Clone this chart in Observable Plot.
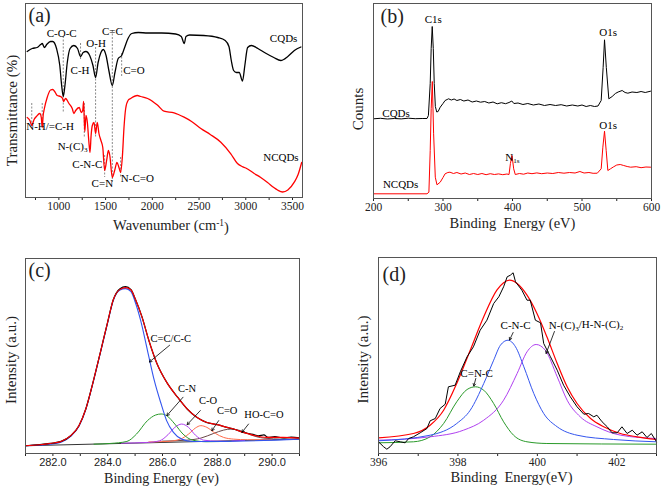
<!DOCTYPE html>
<html><head><meta charset="utf-8">
<script src="https://cdn.jsdelivr.net/npm/d3@7"></script>
<script src="https://cdn.jsdelivr.net/npm/@observablehq/plot@0.6"></script>
<style>
html,body{margin:0;padding:0;background:#fff;}
#fig{position:relative;width:661px;height:491px;overflow:hidden;background:#fff;}
.panel{position:absolute;}
.panel svg text{font-family:"Liberation Serif",serif !important;}
#pc [aria-label="x-axis tick label"] text{font-family:"Liberation Sans",sans-serif !important;}
</style></head><body><div id="fig"></div>
<script>
// ---------- Panel (a): FTIR ----------
const ftirCQDs = [[661,146],[715,149],[768,150],[805,153],[822,154],[845,150],[870,153],[911,156],[935,156],[975,149],[1010,132],[1030,112],[1047,101],[1065,112],[1090,135],[1120,149],[1160,152],[1200,149],[1232,141],[1260,145],[1290,146],[1330,142],[1365,132],[1393,120],[1420,135],[1450,145],[1475,148],[1505,142],[1535,127],[1572,112],[1600,125],[1635,139],[1672,142],[1700,149],[1740,159],[1780,164],[1850,165],[1950,164.5],[2100,164.5],[2250,163.5],[2310,161],[2342,154],[2360,161],[2400,162.5],[2550,162],[2700,160],[2780,157],[2820,151],[2845,137],[2870,127],[2900,125],[2930,125],[2965,116.5],[2990,132],[3020,150],[3060,152],[3130,149],[3200,145],[3300,140],[3375,137],[3450,141],[3520,147],[3590,150.5]];
const ftirNCQDs = [[661,80],[690,77],[710,72],[735,78],[760,81],[796,84],[812,80],[822,70],[832,82],[845,89],[875,100],[911,107.5],[935,108],[955,106],[982,102],[1018,101],[1040,99],[1050,96],[1072,99],[1108,94],[1143,89],[1161,84],[1180,87],[1218,90],[1240,85],[1255,87],[1265,96],[1272,77],[1278,66],[1290,82],[1305,75],[1320,57],[1333,45],[1345,62],[1358,72],[1376,75],[1393,64],[1411,75],[1429,64],[1450,57],[1470,50],[1490,27],[1511,37],[1530,47],[1545,42],[1572,20],[1597,27],[1622,35],[1643,30],[1661,25],[1679,40],[1697,70],[1715,89],[1740,97],[1768,99],[1840,102],[1875,101],[1950,99],[2054,92.5],[2125,86.3],[2233,84.7],[2340,80.3],[2420,76],[2519,69],[2620,63],[2733,55.3],[2840,43.7],[2911,34],[2960,31],[3000,29.5],[3090,24],[3160,20],[3233,15],[3300,10],[3340,7.5],[3394,5.5],[3450,7.5],[3519,15.3],[3560,23],[3598,35]];
const guidesA = [[1047,161,84],[1232,154,137],[1393,150,60],[1572,167,15],[1672,144,120],[710,94,70],[822,94,70],[1272,94,60],[1490,42,20],[1661,40,20]];
const labelsA = [["C-O-C",1030,164],["C-H",1227,127],["O-H",1399,154],["C=C",1572,166],["C=O",1804,127],["CQDs",3405,159],["N-H/=C-H",906,71],["N-(C){_3}",1147,51],["C-N-C",1304,33],["C=N",1465,14],["N-C=O",1840,19],["NCQDs",3376,40]];

// ---------- Panel (b): XPS survey ----------
const surveyCQDs = [[200,79.7],[210,80.2],[220,79.5],[230,80],[240,79.6],[250,80.3],[260,79.8],[270,80],[277,80],[279,83],[281.6,115],[283,150],[284.5,172],[286,150],[287.4,115],[289,92],[291,86.5],[293,87],[296,91.3],[300,95],[303,98],[306,99],[308,99.7],[312,98.5],[316,99.5],[320,98],[325,99],[330,97.5],[336,98.5],[342,96.5],[348,97.5],[354,96.3],[360,97],[366,95.5],[372,96.5],[378,94.7],[384,95.8],[390,94.8],[395,96],[399,97.5],[402,95],[408,95.5],[415,94],[422,95],[430,93.5],[438,94.5],[446,93],[454,94],[462,93],[470,93.8],[478,92.5],[486,93.5],[494,92.5],[500,93.5],[506,92],[512,93],[518,92],[523,92.5],[527.6,98],[530.4,131],[532.4,158.7],[535,131],[538.6,99.7],[543.4,102],[548,105],[552,106.5],[557.8,108],[562,106],[566,105.3],[572,106.5],[579,106],[585,107],[591,106],[598.6,107.3]];
const surveyNCQDs = [[200,4.7],[277,4.7],[279.7,6.3],[281.6,48],[283,90],[284.6,117],[286.5,64.7],[288.9,21.3],[291.3,13.7],[296,16.3],[300,21],[303,24.7],[307,26],[310,26.3],[315,25],[320,26],[326,24.5],[332,25.5],[338,24],[344,25],[350,24],[356,25],[362,23.8],[368,24.8],[374,24],[380,24.6],[386,23.8],[392,24.5],[395,24],[397,35],[399.3,43],[401.7,29.7],[404,24],[410,25],[416,24.3],[422,25.5],[428,24.8],[435,25.6],[442,24.8],[450,25.5],[458,25],[466,26],[474,25.3],[482,26],[490,25.5],[497,27],[503,25.5],[510,26],[516,25.2],[522,25.3],[527.6,29.7],[530,51.3],[532.4,67.3],[534.8,48],[537.2,28],[541,29.7],[545,31.5],[550,33.5],[555,34],[560,33],[565,32],[570,31.3],[578,31.8],[585,30.8],[592,31.5],[598.6,31.3]];
const labelsB = [["C1s",286,179],["O1s",537.6,166],["CQDs",232.5,84.7],["N{_1s}",400,41],["O1s",537.6,73],["NCQDs",239,13.7]];

// ---------- Panel (c): C1s ----------
const c1sData = [[281,7.7],[281.9,10],[282.3,12],[282.65,17.7],[282.95,27.7],[283.2,44.3],[283.45,69.3],[283.75,102.7],[284.0,131],[284.2,152.7],[284.45,164],[284.65,166],[284.85,163],[285.0,154.3],[285.25,136],[285.5,112.7],[285.8,89.3],[286.15,71],[286.55,56],[286.9,44.3],[287.25,36],[287.6,31],[288.0,28.7],[288.35,26],[288.6,24.3],[288.95,21],[289.3,19],[289.5,17.5],[289.7,18.5],[289.85,16],[290.1,16.8],[290.4,15.5],[290.7,16.2],[291,15.6]];
const c1sFit = [[281,7.7],[281.9,10],[282.3,12],[282.65,17.7],[282.95,27.7],[283.2,44.3],[283.45,69.3],[283.75,102.7],[284.0,131],[284.2,152.7],[284.45,163.3],[284.65,165],[284.85,162.7],[285.0,154.3],[285.25,136],[285.5,112.7],[285.8,89.3],[286.15,71],[286.55,56],[286.9,44.3],[287.25,36],[287.6,31],[288.0,28.7],[288.35,26],[288.6,24.3],[288.95,21],[289.3,18.3],[289.8,16],[290.4,16],[291,15.3]];
const c1sBase = [[281,7.7],[291,14.3]];
const c1sCC = [[281,7.7],[281.9,9.3],[282.3,11.3],[282.65,17],[282.95,27],[283.2,43.7],[283.45,68.7],[283.75,102],[284.0,130.3],[284.2,152],[284.45,162.7],[284.65,164],[284.85,161],[285.0,151],[285.2,132.7],[285.45,102.7],[285.7,72.7],[285.95,49.3],[286.15,32.7],[286.4,21],[286.7,14.3],[287.1,12],[288,12],[291,14.3]];
const c1sCN = [[283.5,9.3],[284.1,10],[284.7,12],[285.05,19.3],[285.45,32.7],[285.75,38.3],[285.95,39.3],[286.15,37.7],[286.45,29.3],[286.75,19.3],[287.1,13.3],[287.6,11.7],[288.5,12.3]];
const c1sCO = [[284.5,10.3],[285.45,11],[285.9,12.7],[286.2,18.7],[286.45,26],[286.7,29.3],[286.95,26],[287.2,18.3],[287.5,13.3],[288,12.3],[289,13]];
const c1sCdO = [[285.5,11.5],[286.16,12],[286.65,14.3],[286.95,19.3],[287.2,25.3],[287.4,27.7],[287.62,26],[287.93,20],[288.23,16],[288.6,14.3],[289.1,13.7],[290,13.7]];
const c1sCOOH = [[286.0,12.3],[286.9,13.3],[287.4,15.3],[287.87,20],[288.23,23.3],[288.5,24.3],[288.85,22.7],[289.2,18.7],[289.7,15.3],[290.4,14.3],[291,14.3]];
const labelsC = [["C=C/C-C",286.3,114.7],["C-N",286.9,64.7],["C-O",287.66,52.7],["C=O",288.36,42.3],["HO-C=O",289.7,38.7]];
const arrowsC = [[286.26,107.7,285.52,91],[286.75,56,286.16,37.7],[287.38,42.7,286.9,28.7],[288.05,32.7,287.8,22.7],[289.14,29.3,288.9,21]];

// ---------- Panel (d): N1s ----------
const n1sData = [[396.0,11.7],[396.13,6.7],[396.21,4.3],[396.29,6.7],[396.42,12.7],[396.55,11.7],[396.67,10.7],[396.76,15],[396.88,16.7],[397.05,20.7],[397.22,25],[397.3,32.7],[397.43,35],[397.55,45],[397.68,49.3],[397.76,66.7],[397.93,68.3],[398.06,81.7],[398.23,96.7],[398.39,106.7],[398.56,123.3],[398.73,133.3],[398.9,150],[399.03,156.7],[399.15,166.7],[399.24,176.7],[399.32,178.3],[399.39,180.7],[399.45,171.7],[399.61,163.3],[399.74,153.3],[399.82,153.3],[399.95,133.3],[400.08,130.7],[400.16,110],[400.33,96.7],[400.5,83.3],[400.66,68.3],[400.83,56.7],[401.0,46.7],[401.17,39.3],[401.29,40],[401.42,36.7],[401.5,38.3],[401.63,31.7],[401.76,26.7],[401.88,20.7],[402.01,20.7],[402.13,26.7],[402.26,20],[402.39,23.3],[402.51,18.3],[402.64,21.7],[402.76,16],[402.87,20],[403.0,11.7]];
const n1sFit = [[396.0,15.7],[396.88,20],[397.3,28.3],[397.64,43.3],[397.97,70],[398.31,103.3],[398.65,136.7],[398.98,163.3],[399.15,170.7],[399.3,173.3],[399.49,170],[399.74,158.3],[399.99,140],[400.24,116.7],[400.5,90],[400.75,66.7],[401.0,50],[401.34,35],[401.67,26.7],[402.09,20],[402.51,16.7],[403,14]];
const n1sCNC2 = [[396,10.7],[396.88,11.7],[397.3,16.7],[397.64,30],[397.97,51.7],[398.23,64],[398.44,66.7],[398.65,63.3],[398.9,50],[399.15,31.7],[399.4,18.3],[399.74,11.7],[400.24,10],[403,9.3]];
const n1sCNC = [[396,12.7],[397.3,18.3],[397.97,30],[398.31,43.3],[398.65,70],[398.9,93.3],[399.07,108.3],[399.26,113.3],[399.45,106.7],[399.66,86.7],[399.91,60],[400.16,40],[400.5,26.7],[401.0,18.3],[401.92,14],[403,11.7]];
const n1sNC3 = [[396,13.3],[397.3,16.7],[398.14,23.3],[398.65,33.3],[399.15,53.3],[399.49,80],[399.74,101.7],[399.97,109],[400.2,103.3],[400.5,76.7],[400.75,53.3],[401.08,36.7],[401.5,26.7],[402.1,18.3],[403,15]];
const labelsD = [["C-N-C",399.45,128.3],["C=N-C",398.47,80]];
const labelsDStart = [["N-(C){_3}/H-N-(C){_2}",400.29,128.3]];
const arrowsD = [[399.39,121,399.3,113.5],[400.43,122,400.22,100],[398.45,75,398.4,67.5]];

// ---------- drawing ----------
const SERIF = '"Liberation Serif", serif';
const SANS = '"Liberation Sans", sans-serif';
const X = d => d[0], Y = d => d[1];

function richify(svg, sansTicks) {
  d3.select(svg).selectAll("text").each(function () {
    const isTick = this.parentNode && this.parentNode.getAttribute("aria-label") === "x-axis tick label";
    this.style.setProperty("font-family", sansTicks && isTick ? SANS : SERIF, "important");
    const t = this.textContent;
    if (!/\{[_^]/.test(t)) return;
    const parts = [];
    const re = /\{([_^])([^}]*)\}/g;
    let last = 0, m;
    while ((m = re.exec(t))) {
      if (m.index > last) parts.push({s: t.slice(last, m.index), k: "n"});
      parts.push({s: m[2], k: m[1] === "_" ? "sub" : "sup"});
      last = re.lastIndex;
    }
    if (last < t.length) parts.push({s: t.slice(last), k: "n"});
    while (this.firstChild) this.removeChild(this.firstChild);
    let shift = 0;
    for (const p of parts) {
      const ts = document.createElementNS("http://www.w3.org/2000/svg", "tspan");
      const target = p.k === "sub" ? 0.3 : p.k === "sup" ? -0.45 : 0;
      const dy = target - shift;
      if (dy !== 0) ts.setAttribute("dy", dy + "em");
      shift = target;
      if (p.k !== "n") ts.setAttribute("font-size", "65%");
      ts.textContent = p.s;
      this.appendChild(ts);
    }
  });
}

function place(svg, id, left, top, sansTicks = false) {
  const div = document.createElement("div");
  div.className = "panel";
  div.id = id;
  div.style.left = left + "px";
  div.style.top = top + "px";
  div.appendChild(svg);
  document.getElementById("fig").appendChild(div);
  richify(svg, sansTicks);
}

function letter(s, dx, dy) {
  return Plot.text([s], {text: d => d, frameAnchor: "top-left", dx, dy, textAnchor: "start", lineAnchor: "middle", fontSize: 20});
}
function ylab(s, dx, dy) {
  return Plot.text([s], {text: d => d, frameAnchor: "left", rotate: -90, dx, dy, textAnchor: "middle", lineAnchor: "middle", fontSize: 15});
}
function xlab(s, dx, dy, size = 15) {
  return Plot.text([s], {text: d => d, frameAnchor: "bottom", dx, dy, textAnchor: "middle", lineAnchor: "middle", fontSize: size});
}

// (a)
place(Plot.plot({
  width: 330, height: 245,
  marginLeft: 25, marginRight: 28, marginTop: 3, marginBottom: 48,
  style: {fontSize: "11.5px", color: "#222", background: "transparent"},
  x: {domain: [643, 3607], ticks: d3.range(750, 3601, 250), tickFormat: d => d % 500 === 0 ? String(d) : "", tickSize: 3, tickPadding: 1, label: null},
  y: {domain: [0, 194], axis: null},
  marks: [
    Plot.ruleX(guidesA, {x: d => d[0], y1: d => d[1], y2: d => d[2], stroke: "#8a8a8a", strokeWidth: 1, strokeDasharray: "2,1.5"}),
    Plot.line(ftirCQDs, {x: X, y: Y, stroke: "#000", strokeWidth: 1.3, curve: "monotone-x"}),
    Plot.line(ftirNCQDs, {x: X, y: Y, stroke: "#ff0000", strokeWidth: 1.3, curve: "monotone-x"}),
    Plot.text(labelsA, {x: d => d[1], y: d => d[2], text: d => d[0], fontSize: 11, fill: "#000", lineAnchor: "middle"}),
    Plot.frame({stroke: "#555"}),
    letter("(a)", 3, 12),
    ylab("Transmittance (%)", -13, 10),
    xlab("Wavenumber (cm{^-1})", 7, 28, 14.5)
  ]
}), "pa", 0, 0);

// (b)
place(Plot.plot({
  width: 331, height: 245,
  marginLeft: 43, marginRight: 10, marginTop: 3, marginBottom: 47,
  style: {fontSize: "11.5px", color: "#222", background: "transparent"},
  x: {domain: [200, 600], ticks: d3.range(200, 601, 50), tickFormat: d => d % 100 === 0 ? String(d) : "", tickSize: 3, tickPadding: 1, label: null},
  y: {domain: [0, 195], axis: null},
  marks: [
    Plot.line(surveyCQDs, {x: X, y: Y, stroke: "#000", strokeWidth: 1}),
    Plot.line(surveyNCQDs, {x: X, y: Y, stroke: "#ff0000", strokeWidth: 1}),
    Plot.text(labelsB, {x: d => d[1], y: d => d[2], text: d => d[0], fontSize: 11, fill: "#000", lineAnchor: "middle"}),
    Plot.frame({stroke: "#555"}),
    letter("(b)", 7, 13),
    ylab("Counts", -15, 8),
    xlab("Binding\u00a0 Energy (eV)", 0, 25, 14.5)
  ]
}), "pb", 330, 0);

// (c)
place(Plot.plot({
  width: 330, height: 246,
  marginLeft: 25, marginRight: 31, marginTop: 13, marginBottom: 38,
  style: {fontSize: "11px", color: "#222", background: "transparent"},
  x: {domain: [281, 291], ticks: d3.range(281, 291.01, 1), tickFormat: d => d % 2 === 0 ? d.toFixed(1) : "", tickSize: 3, tickPadding: 2, label: null},
  y: {domain: [0, 194], axis: null},
  marks: [
    Plot.line(c1sBase, {x: X, y: Y, stroke: "#333", strokeWidth: 1}),
    Plot.line(c1sCOOH, {x: X, y: Y, stroke: "#6a4646", strokeWidth: 1, curve: "monotone-x"}),
    Plot.line(c1sCdO, {x: X, y: Y, stroke: "#ff6a4a", strokeWidth: 1, curve: "monotone-x"}),
    Plot.line(c1sCO, {x: X, y: Y, stroke: "#b040f0", strokeWidth: 1, curve: "monotone-x"}),
    Plot.line(c1sCN, {x: X, y: Y, stroke: "#2a9a2a", strokeWidth: 1, curve: "monotone-x"}),
    Plot.line(c1sCC, {x: X, y: Y, stroke: "#3355ee", strokeWidth: 1.1, curve: "monotone-x"}),
    Plot.line(c1sData, {x: X, y: Y, stroke: "#000", strokeWidth: 1.2, curve: "monotone-x"}),
    Plot.line(c1sFit, {x: X, y: Y, stroke: "#ff0000", strokeWidth: 1.1, curve: "monotone-x"}),
    Plot.arrow(arrowsC, {x1: d => d[0], y1: d => d[1], x2: d => d[2], y2: d => d[3], stroke: "#000", strokeWidth: 0.8, headLength: 5}),
    Plot.text(labelsC, {x: d => d[1], y: d => d[2], text: d => d[0], fontSize: 10.5, fill: "#000", lineAnchor: "middle"}),
    Plot.frame({stroke: "#555"}),
    letter("(c)", 3, 12),
    ylab("Intensity (a.u.)", -14, 4),
    xlab("Binding Energy (ev)", -1, 25, 14)
  ]
}), "pc", 0, 245, true);

// (d)
place(Plot.plot({
  width: 331, height: 246,
  marginLeft: 48, marginRight: 5, marginTop: 12, marginBottom: 38,
  style: {fontSize: "11.5px", color: "#222", background: "transparent"},
  x: {domain: [396, 403], ticks: d3.range(396, 403.01, 1), tickFormat: d => d % 2 === 0 ? String(d) : "", tickSize: 3, tickPadding: 1, label: null},
  y: {domain: [0, 196], axis: null},
  marks: [
    Plot.line(n1sCNC2, {x: X, y: Y, stroke: "#2a9a2a", strokeWidth: 1, curve: "monotone-x"}),
    Plot.line(n1sNC3, {x: X, y: Y, stroke: "#b040f0", strokeWidth: 1, curve: "monotone-x"}),
    Plot.line(n1sCNC, {x: X, y: Y, stroke: "#3355ee", strokeWidth: 1, curve: "monotone-x"}),
    Plot.line(n1sFit, {x: X, y: Y, stroke: "#ff0000", strokeWidth: 1.2, curve: "monotone-x"}),
    Plot.line(n1sData, {x: X, y: Y, stroke: "#000", strokeWidth: 1}),
    Plot.arrow(arrowsD, {x1: d => d[0], y1: d => d[1], x2: d => d[2], y2: d => d[3], stroke: "#000", strokeWidth: 0.8, headLength: 5}),
    Plot.text(labelsD, {x: d => d[1], y: d => d[2], text: d => d[0], fontSize: 11, fill: "#000", lineAnchor: "middle"}),
    Plot.text(labelsDStart, {x: d => d[1], y: d => d[2], text: d => d[0], textAnchor: "start", fontSize: 11, fill: "#000", lineAnchor: "middle"}),
    Plot.frame({stroke: "#555"}),
    letter("(d)", 4, 17),
    ylab("Intensity (a.u.)", -15, 4),
    xlab("Binding\u00a0 Energy(eV)", -6, 24, 14.5)
  ]
}), "pd", 330, 245);
</script></body></html>
